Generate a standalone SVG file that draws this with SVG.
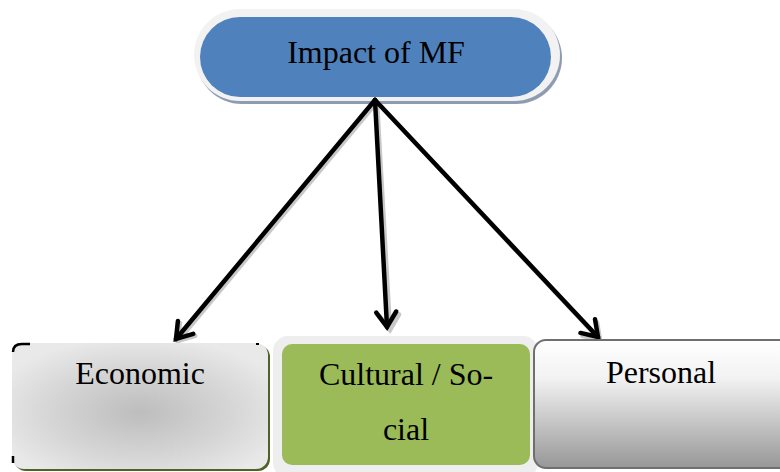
<svg xmlns="http://www.w3.org/2000/svg" width="780" height="472" viewBox="0 0 780 472">
<style>
.t{font-family:"Liberation Serif","Times New Roman",serif;font-size:32px;fill:#000;text-anchor:middle}
.arr{fill:none;stroke:#000;stroke-width:4.5;stroke-linecap:round;stroke-linejoin:round}
.arrs{fill:none;stroke:#c8c8c8;stroke-width:4.5;stroke-linecap:round;stroke-linejoin:round}
</style>
<defs>
<radialGradient id="gEco" cx="0.5" cy="0.55" r="0.6">
<stop offset="0" stop-color="#bdbdbd"/>
<stop offset="0.6" stop-color="#d6d6d6"/>
<stop offset="1" stop-color="#e9e9e9"/>
</radialGradient>
<linearGradient id="gPer" x1="0" y1="0" x2="0" y2="1">
<stop offset="0" stop-color="#ffffff"/>
<stop offset="0.3" stop-color="#f2f2f2"/>
<stop offset="1" stop-color="#979797"/>
</linearGradient>
<marker id="chev" markerUnits="userSpaceOnUse" markerWidth="40" markerHeight="40" refX="0" refY="0" viewBox="-20 -20 40 40" orient="auto">
<path d="M -15 -10 L 0 0 L -15 10" fill="none" stroke="#000" stroke-width="4.5" stroke-linecap="round" stroke-linejoin="miter"/>
</marker>
<marker id="chevs" markerUnits="userSpaceOnUse" markerWidth="40" markerHeight="40" refX="0" refY="0" viewBox="-20 -20 40 40" orient="auto">
<path d="M -15 -10 L 0 0 L -15 10" fill="none" stroke="#c8c8c8" stroke-width="4.5" stroke-linecap="round"/>
</marker>
</defs>
<rect width="780" height="472" fill="#fff"/>
<g id="impact">
<rect x="196" y="12" width="366" height="92" rx="46" fill="#8e9cb2"/>
<rect x="194" y="9" width="366" height="92" rx="46" fill="#f2f2f2"/>
<rect x="200" y="17" width="351" height="80" rx="40" fill="#4f81bd"/>
<text class="t" x="376" y="63">Impact of MF</text>
</g>
<g id="connectors">
<g class="shadow">
<path class="arrs" d="M 377 102 L 178 341" marker-end="url(#chevs)"/>
<path class="arrs" d="M 377 102 L 390 330" marker-end="url(#chevs)"/>
<path class="arrs" d="M 377 102 L 600 340" marker-end="url(#chevs)"/>
</g>
<path class="arr" d="M 375 100 L 176 339" marker-end="url(#chev)"/>
<path class="arr" d="M 375 100 L 387 327" marker-end="url(#chev)"/>
<path class="arr" d="M 375 100 L 598 337" marker-end="url(#chev)"/>
</g>
<g id="economic">
<rect x="14" y="345" width="256" height="126" rx="12" fill="#4f6228"/>
<rect x="12" y="343" width="256" height="126" rx="12" fill="url(#gEco)"/>
<path d="M 13 352 Q 13 344 22 344 L 30 344" fill="none" stroke="#000" stroke-width="2.5"/>
<path d="M 13 456 L 13 463" fill="none" stroke="#000" stroke-width="2.5"/>
<path d="M 256 344 L 259 344" fill="none" stroke="#000" stroke-width="2"/>
<text class="t" x="140" y="384">Economic</text>
</g>
<g id="cultural">
<rect x="273" y="336" width="265" height="142" rx="15" fill="#eeeeee"/>
<rect x="282" y="344" width="248" height="121" rx="10" fill="#9bbb59"/>
<text class="t" x="406" y="385">Cultural / So-</text>
<text class="t" x="406" y="440">cial</text>
</g>
<g id="personal">
<rect x="534" y="340" width="262" height="128" rx="12" fill="url(#gPer)" stroke="#6f6f6f" stroke-width="2"/>
<text class="t" x="661" y="383">Personal</text>
</g>
</svg>
